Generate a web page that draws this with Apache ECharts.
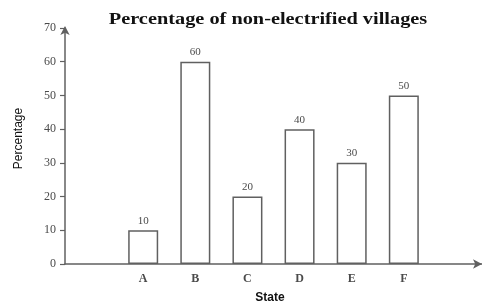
<!DOCTYPE html>
<html><head><meta charset="utf-8">
<script src="https://cdn.jsdelivr.net/npm/echarts@6/dist/echarts.min.js"></script>
<style>html,body{margin:0;padding:0;background:#fff}#c{width:482px;height:307px}</style>
</head><body><div id="c"></div>
<script>
const titleText = 'Percentage of non-electrified villages';
const categories = ['', 'A', 'B', 'C', 'D', 'E', 'F', ''];
const values = [null, 10, 60, 20, 40, 30, 50, null];
const yTicks = [0, 10, 20, 30, 40, 50, 60, 70];

const chart = echarts.init(document.getElementById('c'), null, {renderer: 'canvas'});
chart.setOption({
  animation: false,
  backgroundColor: '#fff',
  grid: {left: 65, right: 0, top: 28, bottom: 43, containLabel: false},
  xAxis: {
    type: 'category', data: categories, boundaryGap: true,
    axisLine: {lineStyle: {color: '#606060', width: 1.5}, symbol: ['none', 'arrow'], symbolSize: [7, 9]},
    axisTick: {show: false},
    axisLabel: {fontFamily: 'Liberation Serif', fontWeight: 'bold', fontSize: 12, color: '#4a4a4a', margin: 9, interval: 0}
  },
  yAxis: {
    type: 'value', min: 0, max: 70, interval: 10,
    splitLine: {show: false},
    axisLine: {show: true, lineStyle: {color: '#606060', width: 1.5}, symbol: ['none', 'arrow'], symbolSize: [7, 9], symbolOffset: [0, 2]},
    axisTick: {show: true, length: 5, lineStyle: {color: '#606060', width: 1.2}},
    axisLabel: {fontFamily: 'Liberation Serif', fontSize: 12, color: '#4a4a4a', margin: 9,
      formatter: v => yTicks.includes(v) ? String(v) : ''}
  },
  graphic: [
    {type: 'text', x: 268, y: 19.5, scaleX: 1.27, scaleY: 1,
     style: {text: titleText, fontFamily: 'Liberation Serif', fontWeight: 'bold', fontSize: 16, fill: '#111', textAlign: 'center', textVerticalAlign: 'middle'}},
    {type: 'text', x: 18.5, y: 138.5, rotation: Math.PI / 2,
     style: {text: 'Percentage', fontFamily: 'Liberation Sans', fontSize: 12, fill: '#111', textAlign: 'center', textVerticalAlign: 'middle'}},
    {type: 'text', x: 270, y: 298,
     style: {text: 'State', fontFamily: 'Liberation Sans', fontWeight: 'bold', fontSize: 12, fill: '#111', textAlign: 'center', textVerticalAlign: 'middle'}}
  ],
  series: [{
    type: 'bar', data: values, barWidth: 30,
    itemStyle: {color: '#fff', borderColor: '#606060', borderWidth: 1.5},
    label: {show: true, position: 'top', distance: 4, fontFamily: 'Liberation Serif', fontSize: 11, color: '#4a4a4a'}
  }]
});
</script></body></html>
